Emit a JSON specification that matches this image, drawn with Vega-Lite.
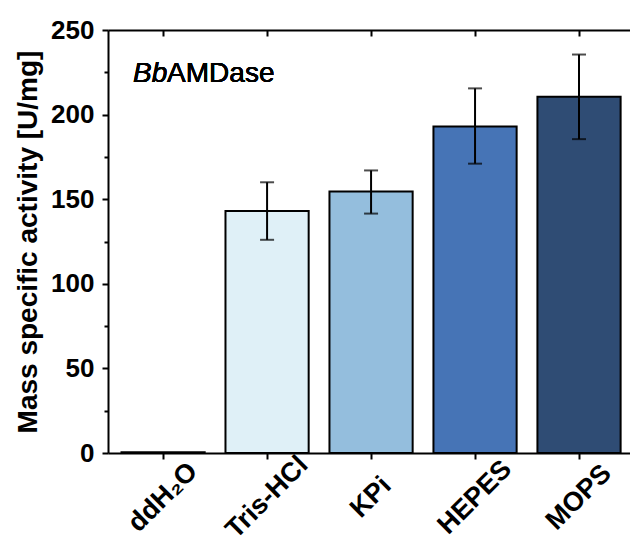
{
  "$schema": "https://vega.github.io/schema/vega-lite/v6.json",
  "width": 522,
  "height": 423,
  "autosize": {"type": "none"},
  "padding": {"left": 108, "top": 30, "right": 0, "bottom": 92},
  "background": "white",
  "config": {"view": {"stroke": null}, "font": "Liberation Sans"},
  "data": {"values": [
    {"buffer": "ddH₂O", "activity": 0.5, "lo": null, "hi": null},
    {"buffer": "Tris-HCl", "activity": 143, "lo": 126, "hi": 160},
    {"buffer": "KPi", "activity": 154.5, "lo": 141.5, "hi": 167},
    {"buffer": "HEPES", "activity": 193, "lo": 171, "hi": 215.5},
    {"buffer": "MOPS", "activity": 210.5, "lo": 185.5, "hi": 235.5}
  ]},
  "layer": [
    {
      "mark": {"type": "bar", "stroke": "black", "strokeWidth": 2},
      "encoding": {
        "x": {"field": "buffer", "type": "nominal", "sort": null,
          "scale": {"domain": ["ddH₂O", "Tris-HCl", "KPi", "HEPES", "MOPS"], "paddingInner": 0.2, "paddingOuter": 0.11, "align": 0.59},
          "axis": {"orient": "bottom", "title": null, "labelAngle": -45, "labelAlign": "center", "labelBaseline": "middle", "labelFont": "Liberation Sans", "labelFontSize": 27, "labelFontWeight": "bold", "labelColor": "black", "domainColor": "black", "domainWidth": 2, "tickColor": "black", "tickWidth": 2, "tickSize": 6, "labelPadding": 38}},
        "y": {"field": "activity", "type": "quantitative", "title": "Mass specific activity [U/mg]",
          "scale": {"domain": [0, 250], "nice": false},
          "axis": {"titleFont": "Liberation Sans", "titleFontSize": 28, "titleFontWeight": "bold", "titleColor": "black", "titlePadding": 8,
            "values": [0, 25, 50, 75, 100, 125, 150, 175, 200, 225, 250],
            "labelExpr": "datum.value % 50 === 0 ? datum.label : ''",
            "tickSize": {"condition": {"test": "datum.value % 50 === 0", "value": 6}, "value": 4},
            "labelFont": "Liberation Sans", "labelFontSize": 26, "labelFontWeight": "bold", "labelColor": "black", "labelPadding": 8,
            "grid": false, "domainColor": "black", "domainWidth": 2, "tickColor": "black", "tickWidth": 2}},
        "fill": {"field": "buffer", "type": "nominal",
          "scale": {"domain": ["ddH₂O", "Tris-HCl", "KPi", "HEPES", "MOPS"], "range": ["#ffffff", "#dff0f7", "#94bedd", "#4674b6", "#2f4c74"]},
          "legend": null}
      }
    },
    {
      "mark": {"type": "rule", "color": "black", "strokeWidth": 2},
      "encoding": {
        "x": {"field": "buffer", "type": "nominal", "sort": null,
          "axis": {"orient": "top", "title": null, "labels": false, "domainColor": "black", "domainWidth": 2, "tickColor": "black", "tickWidth": 2, "tickSize": -6}},
        "y": {"field": "lo", "type": "quantitative", "title": "Mass specific activity [U/mg]"},
        "y2": {"field": "hi"}
      }
    },
    {
      "mark": {"type": "tick", "color": "black", "size": 14, "thickness": 2, "orient": "horizontal"},
      "encoding": {
        "x": {"field": "buffer", "type": "nominal", "sort": null, "axis": null},
        "y": {"field": "lo", "type": "quantitative", "title": "Mass specific activity [U/mg]"}
      }
    },
    {
      "mark": {"type": "tick", "color": "black", "size": 14, "thickness": 2, "orient": "horizontal"},
      "encoding": {
        "x": {"field": "buffer", "type": "nominal", "sort": null, "axis": null},
        "y": {"field": "hi", "type": "quantitative", "title": "Mass specific activity [U/mg]"}
      }
    },
    {
      "mark": {"type": "text", "text": "Bb", "font": "Liberation Sans", "fontSize": 28, "fontStyle": "italic", "align": "left", "baseline": "alphabetic", "dx": -30, "color": "black"},
      "encoding": {
        "x": {"datum": "ddH₂O", "axis": null},
        "y": {"datum": 219, "title": "Mass specific activity [U/mg]"}
      }
    },
    {
      "mark": {"type": "text", "text": "AMDase", "font": "Liberation Sans", "fontSize": 28, "align": "left", "baseline": "alphabetic", "dx": 4, "color": "black"},
      "encoding": {
        "x": {"datum": "ddH₂O", "axis": null},
        "y": {"datum": 219, "title": "Mass specific activity [U/mg]"}
      }
    }
  ],
  "resolve": {"axis": {"x": "independent"}}
}
